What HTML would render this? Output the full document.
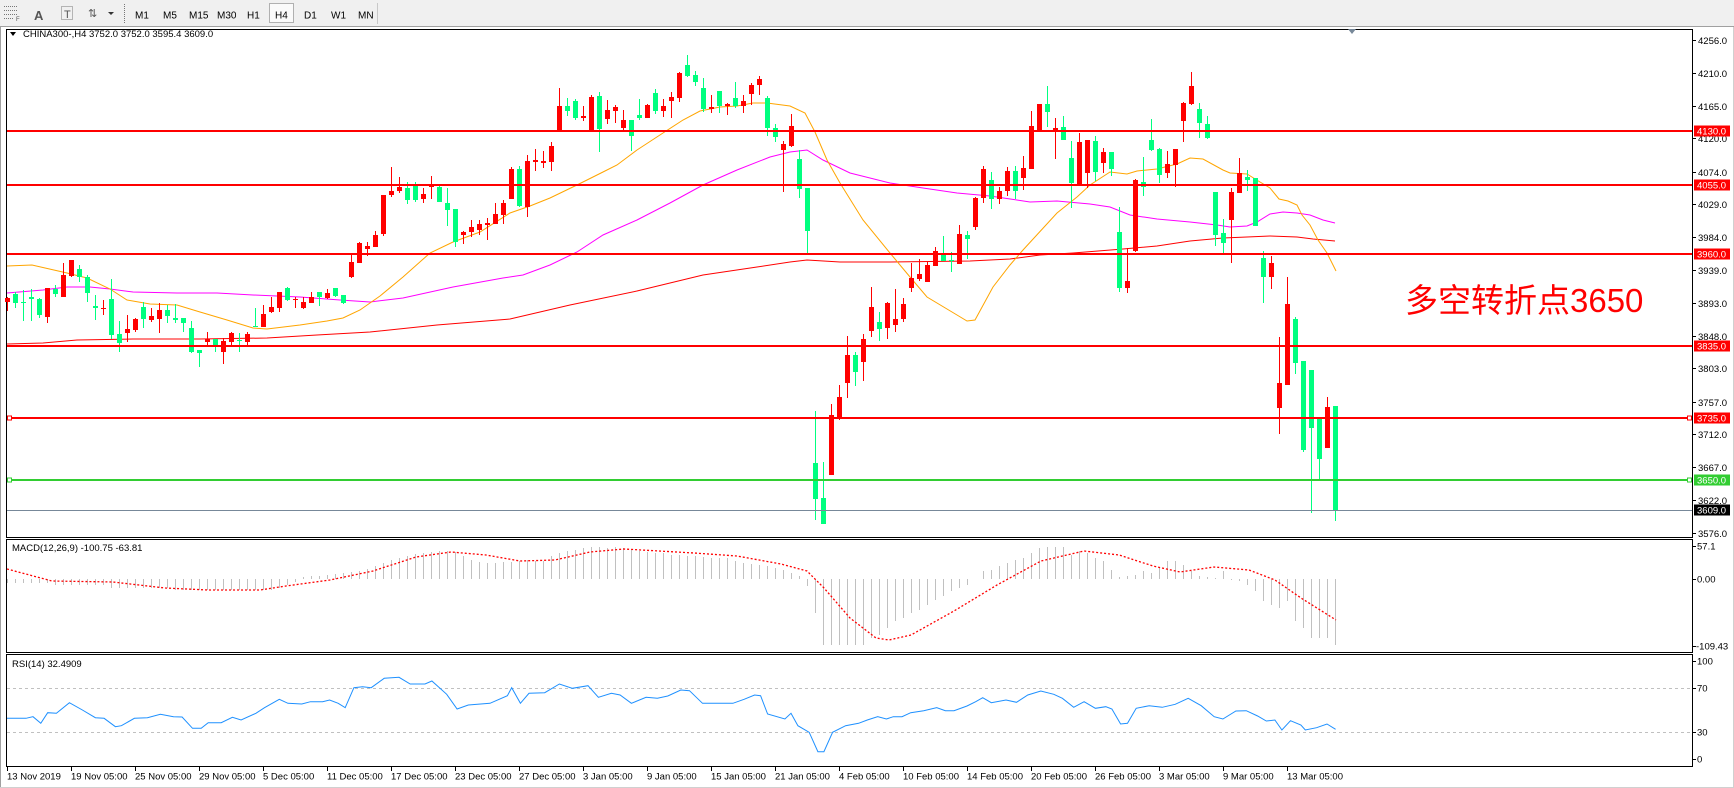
<!DOCTYPE html>
<html><head><meta charset="utf-8">
<style>
html,body{margin:0;padding:0;width:1734px;height:788px;overflow:hidden;background:#fff}
svg{position:absolute;left:0;top:0;display:block}
text{font-family:"Liberation Sans",sans-serif;font-size:9.5px;fill:#000}
</style></head>
<body>
<svg width="1734" height="788" viewBox="0 0 1734 788" xmlns="http://www.w3.org/2000/svg">
<!-- toolbar -->
<rect x="0" y="0" width="1734" height="27" fill="#f0f0f0"/>
<line x1="0" y1="26.5" x2="1734" y2="26.5" stroke="#a0a0a0"/>
<g stroke="#777" stroke-dasharray="1,1">
<line x1="4" y1="6.5" x2="18" y2="6.5"/><line x1="4" y1="10.5" x2="18" y2="10.5"/><line x1="4" y1="14.5" x2="18" y2="14.5"/><line x1="4" y1="18.5" x2="14" y2="18.5"/>
<rect x="61.5" y="6.5" width="11" height="13" fill="none"/>
<line x1="124.5" y1="4" x2="124.5" y2="23"/>
</g>
<text x="16" y="21" style="font-size:6px;fill:#555">F</text>
<text x="34" y="20" style="font-size:13px;fill:#555;font-weight:bold">A</text>
<text x="64" y="18" style="font-size:11px;fill:#555">T</text>
<text x="88" y="17" style="font-size:11px;fill:#555">⇅</text>
<path d="M108 12h6l-3 3z" fill="#333"/>
<rect x="269.5" y="3.5" width="24" height="19" fill="#fafafa" stroke="#b0b0b0"/>
<g style="fill:#222">
<text x="135" y="18.5" style="font-size:10px">M1</text>
<text x="163" y="18.5" style="font-size:10px">M5</text>
<text x="189" y="18.5" style="font-size:10px">M15</text>
<text x="217" y="18.5" style="font-size:10px">M30</text>
<text x="247" y="18.5" style="font-size:10px">H1</text>
<text x="275" y="18.5" style="font-size:10px">H4</text>
<text x="304" y="18.5" style="font-size:10px">D1</text>
<text x="331" y="18.5" style="font-size:10px">W1</text>
<text x="358" y="18.5" style="font-size:10px">MN</text>
</g>
<line x1="377.5" y1="3" x2="377.5" y2="24" stroke="#c8c8c8"/>

<!-- outer borders -->
<line x1="0.5" y1="27" x2="0.5" y2="788" stroke="#a0a0a0"/>
<line x1="0" y1="787.5" x2="1734" y2="787.5" stroke="#d0d0d0"/>
<line x1="1733.5" y1="27" x2="1733.5" y2="788" stroke="#d0d0d0"/>

<!-- panels -->
<rect x="6.5" y="29.5" width="1686" height="508" fill="#fff" stroke="#000"/>
<rect x="6.5" y="539.5" width="1686" height="113" fill="#fff" stroke="#000"/>
<rect x="6.5" y="654.5" width="1686" height="112" fill="#fff" stroke="#000"/>

<!-- title -->
<path d="M10 32h6l-3 4z" fill="#000"/>
<text x="23" y="37">CHINA300-,H4  3752.0 3752.0 3595.4 3609.0</text>
<path d="M1348 29h8l-4 5z" fill="#778899"/>

<!-- moving averages -->
<polyline fill="none" stroke="#ff0000" stroke-width="1" points="7,344 43,343 77,340 133,339 200,339 267,338 317,335 370,332 437,325 510,319 570,305 637,291 703,275 757,267 790,262 807,260 840,262 890,262 970,261 1010,259 1040,255 1073,253 1123,249 1157,246 1190,241 1223,238 1247,237 1270,236 1297,237 1313,239 1335,241"/>
<polyline fill="none" stroke="#ff00ff" stroke-width="1" points="7,293 43,290 67,287 90,287 110,289 133,292 177,293 217,293 253,295 300,297 340,300 370,302 403,298 453,287 503,278 523,275 550,265 577,252 603,235 637,220 670,203 703,185 737,170 770,157 790,152 807,150 823,160 850,173 890,183 923,188 957,193 990,196 1030,202 1057,201 1090,204 1110,207 1130,215 1157,219 1190,222 1217,225 1230,227 1247,226 1257,222 1270,214 1283,212 1297,213 1310,215 1323,220 1335,223"/>
<polyline fill="none" stroke="#ffa500" stroke-width="1" points="7,266 32,265 67,273 87,278 110,289 127,300 150,304 177,305 200,312 227,320 253,328 267,329 300,325 327,321 343,318 360,310 370,303 380,296 403,277 430,253 453,242 480,232 510,213 530,206 550,198 577,185 603,172 617,165 637,150 663,133 683,120 700,111 720,107 737,106 753,103 767,103 790,106 805,113 815,132 827,160 840,183 863,220 890,253 910,277 927,297 957,315 967,321 975,320 993,287 1010,265 1023,250 1057,213 1077,197 1090,185 1110,172 1127,174 1137,171 1157,169 1177,164 1190,158 1203,159 1223,170 1230,173 1247,174 1260,182 1270,188 1279,199 1288,201 1297,205 1302,215 1310,225 1318,240 1327,253 1336,271"/>

<!-- candles red -->
<path fill="none" stroke="#ff0000" stroke-width="1" d="M7.5 297V311M47.5 288V323M63.5 263V297M71.5 260V277M103.5 300V315M127.5 315V342M135.5 318V332M151.5 308V322M159.5 303V333M207.5 332V345M223.5 338V364M231.5 332V345M247.5 332V345M263.5 305V327M271.5 297V313M279.5 292V312M295.5 297V308M303.5 297V309M311.5 292V303M327.5 289V299M351.5 255V278M359.5 242V263M367.5 242V256M375.5 231V247M383.5 195V236M391.5 167V197M399.5 177V193M423.5 188V203M431.5 176V199M463.5 231V244M471.5 220V237M479.5 220V235M487.5 218V240M495.5 203V224M503.5 200V224M511.5 167V199M527.5 155V217M535.5 149V171M543.5 151V168M551.5 142V171M559.5 88V131M583.5 106V121M591.5 95V131M607.5 100V124M615.5 105V123M623.5 110V131M647.5 104V118M663.5 99V117M671.5 92V118M679.5 72V102M711.5 95V113M727.5 103V115M743.5 95V113M751.5 83V105M759.5 76V95M783.5 141V192M791.5 114V147M831.5 404V475M839.5 385V420M847.5 336V398M863.5 334V381M871.5 287V337M887.5 302V339M895.5 289V332M903.5 298V322M911.5 263V292M919.5 259V281M927.5 262V282M935.5 247V266M959.5 225V264M975.5 197V230M983.5 166V203M999.5 187V204M1007.5 167V196M1023.5 156V190M1031.5 111V169M1039.5 104V131M1055.5 118V159M1079.5 133V186M1087.5 140V188M1103.5 148V173M1127.5 248V293M1135.5 179V252M1167.5 151V178M1175.5 149V187M1183.5 102V142M1191.5 72V105M1231.5 188V263M1239.5 158V193M1271.5 256V289M1279.5 337V434M1287.5 277V385M1327.5 397V448"/>
<path fill="#ff0000" d="M5 298h5v4h-5zM45 288h5v29h-5zM61 275h5v22h-5zM69 260h5v16h-5zM101 308h5v1h-5zM125 329h5v4h-5zM133 319h5v11h-5zM149 316h5v4h-5zM157 310h5v9h-5zM205 339h5v3h-5zM221 341h5v11h-5zM229 333h5v9h-5zM245 334h5v8h-5zM261 314h5v13h-5zM269 307h5v5h-5zM277 292h5v16h-5zM293 299h5v1h-5zM301 302h5v6h-5zM309 297h5v6h-5zM325 293h5v5h-5zM349 262h5v15h-5zM357 243h5v20h-5zM365 246h5v3h-5zM373 235h5v12h-5zM381 195h5v39h-5zM389 191h5v4h-5zM397 187h5v4h-5zM421 194h5v5h-5zM429 186h5v1h-5zM461 232h5v3h-5zM469 227h5v5h-5zM477 224h5v6h-5zM485 223h5v2h-5zM493 214h5v10h-5zM501 203h5v12h-5zM509 169h5v30h-5zM525 161h5v46h-5zM533 160h5v2h-5zM541 161h5v2h-5zM549 146h5v16h-5zM557 106h5v25h-5zM581 116h5v2h-5zM589 97h5v34h-5zM605 110h5v9h-5zM613 107h5v4h-5zM621 120h5v8h-5zM645 105h5v13h-5zM661 106h5v5h-5zM669 97h5v4h-5zM677 73h5v25h-5zM709 107h5v2h-5zM725 104h5v2h-5zM741 101h5v5h-5zM749 85h5v9h-5zM757 79h5v6h-5zM781 144h5v6h-5zM789 126h5v20h-5zM829 415h5v60h-5zM837 397h5v21h-5zM845 355h5v28h-5zM861 339h5v23h-5zM869 307h5v24h-5zM885 303h5v25h-5zM893 319h5v6h-5zM901 304h5v15h-5zM909 278h5v10h-5zM917 274h5v5h-5zM925 265h5v17h-5zM933 251h5v15h-5zM957 234h5v30h-5zM973 198h5v29h-5zM981 169h5v29h-5zM997 191h5v8h-5zM1005 171h5v20h-5zM1021 168h5v10h-5zM1029 126h5v43h-5zM1037 104h5v27h-5zM1053 128h5v3h-5zM1077 142h5v43h-5zM1085 140h5v33h-5zM1101 152h5v11h-5zM1125 281h5v7h-5zM1133 180h5v71h-5zM1165 164h5v9h-5zM1173 149h5v16h-5zM1181 103h5v18h-5zM1189 86h5v18h-5zM1229 192h5v28h-5zM1237 173h5v20h-5zM1269 263h5v14h-5zM1277 383h5v25h-5zM1285 304h5v81h-5zM1325 407h5v41h-5z"/>
<!-- candles green -->
<path fill="none" stroke="#00ff7f" stroke-width="1" d="M15.5 292V308M23.5 290V321M31.5 289V321M39.5 298V318M55.5 285V297M79.5 265V282M87.5 275V302M95.5 295V320M111.5 279V339M119.5 321V352M143.5 302V328M167.5 305V323M175.5 304V323M183.5 318V332M191.5 321V353M199.5 350V367M215.5 339V352M239.5 333V352M255.5 308V327M287.5 287V301M319.5 292V306M335.5 288V297M343.5 295V304M407.5 182V204M415.5 182V202M439.5 186V202M447.5 188V226M455.5 209V247M519.5 166V207M567.5 98V116M575.5 99V120M599.5 92V152M631.5 120V151M639.5 99V120M655.5 89V114M687.5 55V77M695.5 71V86M703.5 78V112M719.5 91V113M735.5 82V108M767.5 96V136M775.5 124V142M799.5 150V198M807.5 188V253M815.5 411V520M823.5 462V524M855.5 352V386M879.5 312V341M943.5 236V261M951.5 252V272M967.5 231V259M991.5 172V209M1015.5 166V199M1047.5 86V127M1063.5 116V140M1071.5 141V208M1095.5 136V181M1111.5 152V176M1119.5 207V292M1143.5 157V196M1151.5 119V151M1159.5 148V183M1199.5 103V138M1207.5 116V139M1215.5 192V246M1223.5 219V253M1247.5 170V191M1255.5 178V226M1263.5 251V303M1295.5 317V374M1303.5 361V452M1311.5 370V513M1319.5 419V480M1335.5 406V521"/>
<path fill="#00ff7f" d="M13 294h5v9h-5zM21 302h5v1h-5zM29 297h5v2h-5zM37 299h5v16h-5zM53 289h5v5h-5zM77 269h5v8h-5zM85 277h5v16h-5zM93 306h5v2h-5zM109 299h5v36h-5zM117 334h5v9h-5zM141 307h5v12h-5zM165 310h5v6h-5zM173 318h5v2h-5zM181 318h5v5h-5zM189 328h5v24h-5zM197 350h5v3h-5zM213 339h5v7h-5zM237 340h5v1h-5zM253 326h5v1h-5zM285 288h5v12h-5zM317 292h5v5h-5zM333 288h5v8h-5zM341 295h5v8h-5zM405 188h5v12h-5zM413 186h5v14h-5zM437 187h5v15h-5zM445 203h5v7h-5zM453 209h5v33h-5zM517 169h5v37h-5zM565 106h5v5h-5zM573 101h5v17h-5zM597 96h5v33h-5zM629 120h5v16h-5zM637 115h5v3h-5zM653 93h5v18h-5zM685 65h5v11h-5zM693 75h5v7h-5zM701 88h5v21h-5zM717 91h5v15h-5zM733 98h5v8h-5zM765 98h5v30h-5zM773 128h5v9h-5zM797 159h5v30h-5zM805 188h5v43h-5zM813 463h5v36h-5zM821 498h5v26h-5zM853 355h5v17h-5zM877 322h5v7h-5zM941 255h5v6h-5zM949 260h5v1h-5zM965 235h5v4h-5zM989 180h5v19h-5zM1013 171h5v20h-5zM1045 104h5v8h-5zM1061 127h5v13h-5zM1069 158h5v25h-5zM1093 141h5v31h-5zM1109 152h5v17h-5zM1117 232h5v56h-5zM1141 182h5v5h-5zM1149 140h5v10h-5zM1157 149h5v26h-5zM1197 109h5v14h-5zM1205 124h5v14h-5zM1213 192h5v43h-5zM1221 233h5v10h-5zM1245 177h5v3h-5zM1253 178h5v48h-5zM1261 258h5v19h-5zM1293 319h5v44h-5zM1301 361h5v89h-5zM1309 370h5v58h-5zM1317 419h5v40h-5zM1333 406h5v105h-5z"/>

<!-- horizontal levels -->
<g stroke-width="2">
<line x1="7" y1="131" x2="1692" y2="131" stroke="#ff0000"/>
<line x1="7" y1="185" x2="1692" y2="185" stroke="#ff0000"/>
<line x1="7" y1="254" x2="1692" y2="254" stroke="#ff0000"/>
<line x1="7" y1="346" x2="1692" y2="346" stroke="#ff0000"/>
<line x1="7" y1="418" x2="1692" y2="418" stroke="#ff0000"/>
<line x1="7" y1="480" x2="1692" y2="480" stroke="#32cd32"/>
</g>
<line x1="7" y1="510.5" x2="1692" y2="510.5" stroke="#778899" stroke-width="1"/>
<rect x="7.5" y="416" width="4" height="4" fill="#fff" stroke="#ff0000"/>
<rect x="1687.5" y="416" width="4" height="4" fill="#fff" stroke="#ff0000"/>
<rect x="7.5" y="478" width="4" height="4" fill="#fff" stroke="#32cd32"/>
<rect x="1687.5" y="478" width="4" height="4" fill="#fff" stroke="#32cd32"/>

<!-- annotation -->
<text x="1405" y="312" style="font-family:'Liberation Sans','Noto Sans CJK SC',sans-serif;font-size:33px;fill:#ff0000">多空转折点3650</text>

<!-- price axis -->
<g stroke="#000">
<path d="M1692 40.5h4M1692 73.5h4M1692 106.5h4M1692 138.5h4M1692 172.5h4M1692 204.5h4M1692 237.5h4M1692 270.5h4M1692 303.5h4M1692 336.5h4M1692 368.5h4M1692 402.5h4M1692 434.5h4M1692 467.5h4M1692 500.5h4M1692 533.5h4"/>
</g>
<g>
<text x="1698" y="44">4256.0</text>
<text x="1698" y="77">4210.0</text>
<text x="1698" y="110">4165.0</text>
<text x="1698" y="142">4120.0</text>
<text x="1698" y="176">4074.0</text>
<text x="1698" y="208">4029.0</text>
<text x="1698" y="241">3984.0</text>
<text x="1698" y="274">3939.0</text>
<text x="1698" y="307">3893.0</text>
<text x="1698" y="340">3848.0</text>
<text x="1698" y="372">3803.0</text>
<text x="1698" y="406">3757.0</text>
<text x="1698" y="438">3712.0</text>
<text x="1698" y="471">3667.0</text>
<text x="1698" y="504">3622.0</text>
<text x="1698" y="537">3576.0</text>
</g>
<rect x="1694" y="125.5" width="36" height="11" fill="#ff0000"/>
<rect x="1694" y="179.5" width="36" height="11" fill="#ff0000"/>
<rect x="1694" y="248.5" width="36" height="11" fill="#ff0000"/>
<rect x="1694" y="340.5" width="36" height="11" fill="#ff0000"/>
<rect x="1694" y="412.5" width="36" height="11" fill="#ff0000"/>
<rect x="1694" y="474.5" width="36" height="11" fill="#32cd32"/>
<rect x="1694" y="504.5" width="36" height="11" fill="#000"/>
<g style="fill:#fff">
<text x="1697" y="134.5" style="fill:#fff">4130.0</text>
<text x="1697" y="188.5" style="fill:#fff">4055.0</text>
<text x="1697" y="257.5" style="fill:#fff">3960.0</text>
<text x="1697" y="349.5" style="fill:#fff">3835.0</text>
<text x="1697" y="421.5" style="fill:#fff">3735.0</text>
<text x="1697" y="483.5" style="fill:#fff">3650.0</text>
<text x="1697" y="513.5" style="fill:#fff">3609.0</text>
</g>

<!-- MACD -->
<text x="12" y="551">MACD(12,26,9) -100.75 -63.81</text>
<path fill="none" stroke="#c0c0c0" stroke-width="1" d="M7.5 579V583M15.5 579V583M23.5 579V583M31.5 579V583M39.5 579V583M47.5 579V583M55.5 579V585M63.5 579V585M71.5 579V585M79.5 579V585M87.5 579V585M95.5 579V585M103.5 579V585M111.5 579V588M119.5 579V588M127.5 579V588M135.5 579V588M143.5 579V588M151.5 579V588M159.5 579V588M167.5 579V588M175.5 579V590M183.5 579V590M191.5 579V590M199.5 579V590M207.5 579V590M215.5 579V590M223.5 579V590M231.5 579V590M239.5 579V590M247.5 579V590M255.5 579V590M263.5 579V590M271.5 579V590M279.5 579V588M287.5 579V585M295.5 579V582M303.5 579V577M311.5 579V576M319.5 579V576M327.5 579V575M335.5 579V574M343.5 579V573M351.5 579V572M359.5 579V571M367.5 579V569M375.5 579V566M383.5 579V563M391.5 579V560M399.5 579V558M407.5 579V556M415.5 579V554M423.5 579V553M431.5 579V552M439.5 579V551M447.5 579V551M455.5 579V552M463.5 579V556M471.5 579V560M479.5 579V562M487.5 579V563M495.5 579V563M503.5 579V562M511.5 579V562M519.5 579V561M527.5 579V560M535.5 579V561M543.5 579V561M551.5 579V556M559.5 579V553M567.5 579V551M575.5 579V550M583.5 579V548M591.5 579V547M599.5 579V547M607.5 579V548M615.5 579V547M623.5 579V548M631.5 579V550M639.5 579V551M647.5 579V552M655.5 579V553M663.5 579V553M671.5 579V555M679.5 579V555M687.5 579V556M695.5 579V556M703.5 579V557M711.5 579V558M719.5 579V558M727.5 579V558M735.5 579V561M743.5 579V563M751.5 579V564M759.5 579V565M767.5 579V566M775.5 579V568M783.5 579V570M791.5 579V573M799.5 579V576M807.5 579V586M815.5 579V613M823.5 579V645M831.5 579V645M839.5 579V645M847.5 579V645M855.5 579V645M863.5 579V645M871.5 579V638M879.5 579V635M887.5 579V628M895.5 579V621M903.5 579V618M911.5 579V613M919.5 579V610M927.5 579V605M935.5 579V600M943.5 579V596M951.5 579V591M959.5 579V588M967.5 579V585M983.5 579V571M991.5 579V570M999.5 579V566M1007.5 579V563M1015.5 579V560M1023.5 579V558M1031.5 579V553M1039.5 579V548M1047.5 579V547M1055.5 579V547M1063.5 579V547M1071.5 579V555M1079.5 579V551M1087.5 579V553M1095.5 579V558M1103.5 579V561M1111.5 579V570M1119.5 579V577M1127.5 579V576M1135.5 579V575M1143.5 579V571M1151.5 579V573M1159.5 579V568M1167.5 579V561M1175.5 579V561M1183.5 579V565M1191.5 579V571M1199.5 579V576M1207.5 579V577M1215.5 579V578M1223.5 579V571M1231.5 579V580M1239.5 579V581M1247.5 579V585M1255.5 579V591M1263.5 579V601M1271.5 579V605M1279.5 579V608M1287.5 579V601M1295.5 579V621M1303.5 579V628M1311.5 579V638M1319.5 579V638M1327.5 579V638M1335.5 579V645"/>
<polyline fill="none" stroke="#ff0000" stroke-width="1.3" stroke-dasharray="2,2" points="7,569 52,581 113,582 165,588 208,590 260,590 286,586 330,580 373,571 416,557 451,552 486,555 520,561 555,560 590,552 624,549 659,551 694,553 737,556 781,564 807,571 824,588 850,618 876,638 889,640 911,635 954,611 997,585 1041,561 1084,551 1119,555 1153,566 1180,572 1214,567 1249,570 1275,580 1301,598 1336,620"/>
<g stroke="#000"><path d="M1692 546.5h4M1692 579.5h4M1692 646.5h4"/></g>
<text x="1697" y="549.5">57.1</text>
<text x="1697" y="582.5">0.00</text>
<text x="1696" y="649.5">-109.43</text>

<!-- RSI -->
<text x="12" y="667">RSI(14) 32.4909</text>
<line x1="7" y1="688.5" x2="1692" y2="688.5" stroke="#c0c0c0" stroke-dasharray="3,3"/>
<line x1="7" y1="732.5" x2="1692" y2="732.5" stroke="#c0c0c0" stroke-dasharray="3,3"/>
<polyline fill="none" stroke="#1e90ff" stroke-width="1" points="7,718.3 26,718.3 33,716.7 40.8,723.3 47.7,712.7 56.4,713.3 69.4,702.7 82.4,710 95.4,717.7 104.1,718.3 115.4,726.7 121.4,725.7 134.4,718.3 147.4,717.7 160.4,714.3 173.5,716.7 182.1,717 192.5,728.3 201.2,728.3 208.2,722.7 221.2,722.7 232.4,717.3 241.1,720 255.9,713.3 264.5,707.7 279.3,699.3 287.9,703.3 301.8,704 310.5,701.7 322.6,701.7 329.6,700 338.2,703.3 345.2,707.7 353.9,687.7 362.5,686.7 371.2,687.7 384.2,678.3 399,677.3 410.2,684 425,684 431.9,681 446.7,694.3 457.1,709 468.3,705 490,703.3 507.4,695.7 511.7,687.7 520.4,703.3 529,693.3 544.7,692.7 559.4,684 572.4,688.3 588,685.7 598.4,697.3 611.4,693.3 620.1,695 631.4,703.3 646.1,697.3 657.4,698.3 667.8,696 680.8,690 689.5,690.7 702.5,703.3 718.1,703.3 732.9,703.3 744.1,699.3 754.6,695 760.6,695.7 767.6,714 784.9,719 791,713.3 797.9,725.7 809.2,732.3 817.9,751.7 823.9,751.7 832.6,732.3 845.6,725.7 858.6,723.3 867.3,720 877.7,716.7 886.4,719 893.3,716.7 902,716.7 910.7,712.7 923.7,710.7 936.7,707.7 945.4,710.7 954,710.7 967,706 975.7,701.7 982.7,697.7 991.3,702.7 1006,700 1016.5,702.3 1027.8,695 1040.8,691 1053.8,694.3 1062.4,698.3 1073.7,707.3 1084.1,701.7 1095.4,708.3 1105.8,706.7 1111.9,709 1120.6,724 1127.5,723.3 1136.2,708.3 1149.2,705.7 1162.2,707.3 1175.2,704.3 1188.2,698.3 1201.2,705.7 1214.2,716.7 1222.9,719 1235.9,711 1246.3,710.7 1257.6,716 1266.3,721 1274.9,720 1281.9,730 1290.5,720.7 1300.9,725 1305.3,730 1316.6,727.7 1327,724 1335.6,729.3"/>
<g stroke="#000"><path d="M1692 661.5h4M1692 688.5h4M1692 732.5h4M1692 759.5h4"/></g>
<text x="1697" y="664.5">100</text>
<text x="1697" y="691.5">70</text>
<text x="1697" y="735.5">30</text>
<text x="1697" y="762.5">0</text>

<!-- time axis -->
<g stroke="#000"><path d="M7.5 767v4M71.5 767v4M135.5 767v4M199.5 767v4M263.5 767v4M327.5 767v4M391.5 767v4M455.5 767v4M519.5 767v4M583.5 767v4M647.5 767v4M711.5 767v4M775.5 767v4M839.5 767v4M903.5 767v4M967.5 767v4M1031.5 767v4M1095.5 767v4M1159.5 767v4M1223.5 767v4M1287.5 767v4"/></g>
<g>
<text x="7" y="779.5">13 Nov 2019</text>
<text x="71" y="779.5">19 Nov 05:00</text>
<text x="135" y="779.5">25 Nov 05:00</text>
<text x="199" y="779.5">29 Nov 05:00</text>
<text x="263" y="779.5">5 Dec 05:00</text>
<text x="327" y="779.5">11 Dec 05:00</text>
<text x="391" y="779.5">17 Dec 05:00</text>
<text x="455" y="779.5">23 Dec 05:00</text>
<text x="519" y="779.5">27 Dec 05:00</text>
<text x="583" y="779.5">3 Jan 05:00</text>
<text x="647" y="779.5">9 Jan 05:00</text>
<text x="711" y="779.5">15 Jan 05:00</text>
<text x="775" y="779.5">21 Jan 05:00</text>
<text x="839" y="779.5">4 Feb 05:00</text>
<text x="903" y="779.5">10 Feb 05:00</text>
<text x="967" y="779.5">14 Feb 05:00</text>
<text x="1031" y="779.5">20 Feb 05:00</text>
<text x="1095" y="779.5">26 Feb 05:00</text>
<text x="1159" y="779.5">3 Mar 05:00</text>
<text x="1223" y="779.5">9 Mar 05:00</text>
<text x="1287" y="779.5">13 Mar 05:00</text>
</g>
</svg>
</body></html>
